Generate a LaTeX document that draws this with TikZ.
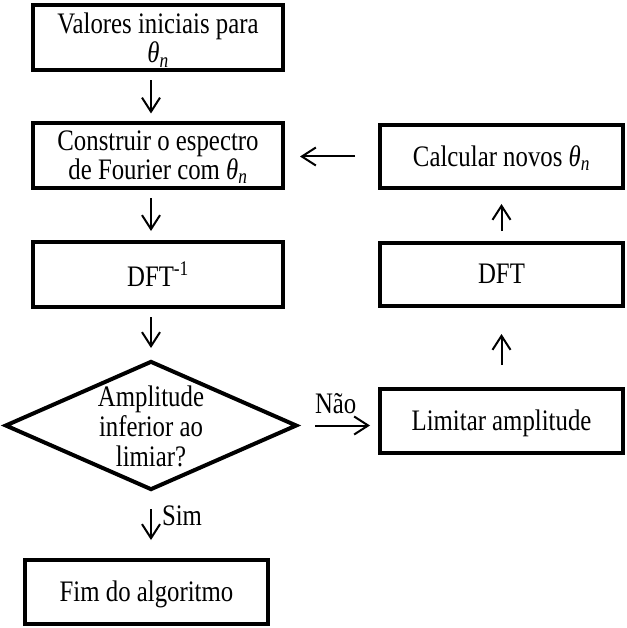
\documentclass[tikz,border=0pt]{standalone}
\usepackage{fontspec}
\usepackage{graphicx}
\setmainfont{Liberation Serif}
\usetikzlibrary{arrows.meta,shapes.geometric}
\newcommand{\thn}{{\itshape θ}\textsubscript{\itshape n}}
\newcommand{\tx}[2][23]{\scalebox{1}[1.2]{\fontsize{24.8}{#1}\selectfont\begin{tabular}{@{}c@{}}#2\end{tabular}}}
\begin{document}
\begin{tikzpicture}[x=1pt,y=-1pt,
  txt/.style={align=center,inner sep=0pt},
  box/.style={draw,line width=4pt,rectangle,minimum height=65pt,inner sep=0pt},
  lbox/.style={box,minimum width=250pt},
  rbox/.style={box,minimum width=243pt},
  dia/.style={draw,line width=4pt,diamond,minimum width=292pt,minimum height=129pt,inner sep=0pt},
  arr/.style={line width=2pt,-{Straight Barb[length=14pt,width=18pt]}},
  lab/.style={inner sep=0pt}]
\useasboundingbox (0,0) rectangle (626,628);
\node[lbox] (b1) at (158,38) {};
\node[txt] (t1) at ([yshift=-4pt]b1.center) {\tx{Valores iniciais para\\\thn}};
\node[lbox] (b2) at (158,156) {};
\node[txt] (t2) at ([yshift=-3pt]b2.center) {\tx[22.5]{Construir o espectro\\de Fourier com \thn}};
\node[lbox] (b3) at (158,274.5) {};
\node[txt] (t3) at ([yshift=-3.5pt]b3.center) {\tx{DFT\textsuperscript{-1}}};
\node[dia] (d) at (151,425.5) {};
\node[txt] (dt) at ([yshift=-5pt]d.center) {\tx[24.4]{Amplitude\\inferior ao\\limiar?}};
\node[box,minimum width=243pt,minimum height=64pt] (fim) at (146.5,592) {};
\node[txt] (tf) at ([yshift=-3.5pt]fim.center) {\tx{Fim do algoritmo}};
\node[rbox,minimum height=63pt] (calc) at (501.5,156.5) {};
\node[txt] (tc) at ([yshift=-3.5pt]calc.center) {\tx{Calcular novos \thn}};
\node[rbox,minimum height=63pt] (dft) at (501.5,274.5) {};
\node[txt] (td) at ([yshift=-3.5pt]dft.center) {\tx{DFT}};
\node[rbox,minimum height=64pt] (lim) at (501.5,421) {};
\node[txt] (tl) at ([yshift=-3.5pt]lim.center) {\tx{Limitar amplitude}};
\coordinate (col) at (d.north);
\draw[arr,shorten <=8pt,shorten >=8pt] (b1.south -| col) -- (b2.north -| col);
\draw[arr,shorten <=8pt,shorten >=9pt] (b2.south -| col) -- (b3.north -| col);
\draw[arr,shorten <=8pt,shorten >=11pt] (b3.south -| col) -- (d.north);
\draw[arr,shorten <=17pt,shorten >=18pt] (d.south) -- (fim.north -| col)
  node[lab,pos=0.42,right=10pt] (sim) {\tx{Sim}};
\draw[arr,shorten <=16pt,shorten >=8pt] (d.east) -- (lim.west |- d.east)
  node[lab,pos=0.19,above=3pt,anchor=south west] (nao) {\tx{Não}};
\draw[arr,shorten <=22pt,shorten >=26pt] (lim.north) -- (dft.south);
\draw[arr,shorten <=10pt,shorten >=14pt] (dft.north) -- (calc.south);
\draw[arr,shorten <=23pt,shorten >=15pt] (calc.west) -- (b2.east |- calc.west);
\end{tikzpicture}
\end{document}
